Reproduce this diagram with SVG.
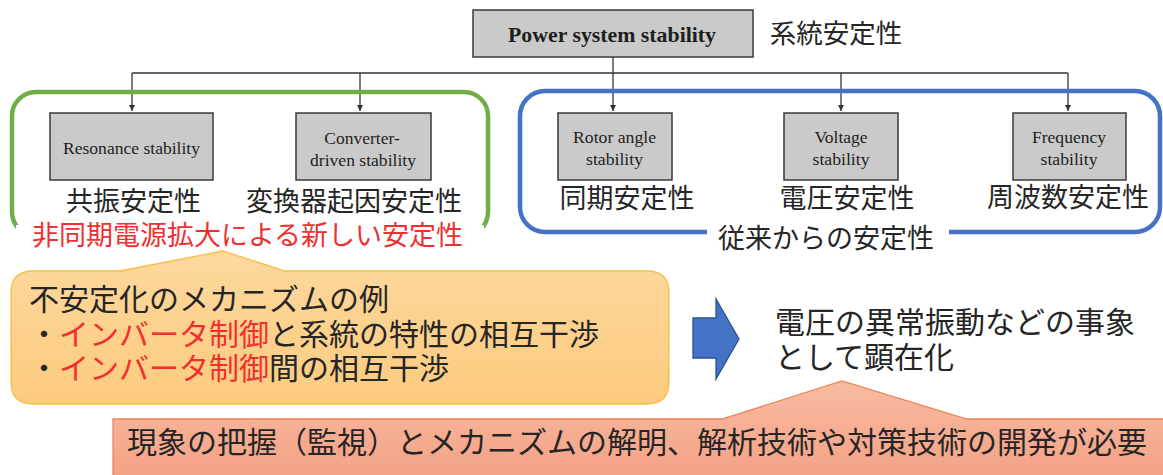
<svg xmlns="http://www.w3.org/2000/svg" width="1163" height="475" viewBox="0 0 1163 475">
<defs>
<style>
.box{fill:#CACACA;stroke:#3a3a3a;stroke-width:1.5}
.en{font-family:"Liberation Serif","Times New Roman",serif;fill:#1e1e1e;text-anchor:middle}
.jp{font-family:"Noto Sans CJK JP","Noto Sans CJK SC",sans-serif;fill:#262626}
.mid{text-anchor:middle}
.red{fill:#F03030}
.conn{stroke:#333;stroke-width:1.3;fill:none}
</style>
<marker id="ah" viewBox="0 0 8 8" refX="8" refY="4" markerWidth="6" markerHeight="6" markerUnits="userSpaceOnUse" orient="auto">
<path d="M0,0 L8,4 L0,8 z" fill="#333"/>
</marker>
<linearGradient id="og" x1="0" y1="0" x2="0" y2="1">
<stop offset="0" stop-color="#FDD89E"/>
<stop offset="1" stop-color="#FCCB7E"/>
</linearGradient>
<linearGradient id="pg" x1="0" y1="0" x2="0" y2="1">
<stop offset="0" stop-color="#F8BBA2"/>
<stop offset="1" stop-color="#F4A184"/>
</linearGradient>
</defs>
<rect x="0" y="0" width="1163" height="475" fill="#ffffff"/>

<g id="connectors">
<path class="conn" d="M613,57 V111" marker-end="url(#ah)"/>
<path class="conn" d="M132,73 H1068"/>
<path class="conn" d="M132,73 V111" marker-end="url(#ah)"/>
<path class="conn" d="M360,73 V111" marker-end="url(#ah)"/>
<path class="conn" d="M841,73 V111" marker-end="url(#ah)"/>
<path class="conn" d="M1068,73 V111" marker-end="url(#ah)"/>
</g>

<g id="group-new">
<rect x="12" y="92" width="476" height="144" rx="24" fill="none" stroke="#70AD47" stroke-width="4.5"/>
<rect x="16" y="225" width="468" height="28" fill="#ffffff"/>
<text class="jp mid red" x="247.5" y="245" font-size="27">非同期電源拡大による新しい安定性</text>
</g>

<g id="group-conventional">
<rect x="520" y="91" width="640" height="141" rx="25" fill="none" stroke="#4472C4" stroke-width="4.5"/>
<rect x="707" y="226" width="242" height="12" fill="#ffffff"/>
<text class="jp mid" x="826" y="248" font-size="27">従来からの安定性</text>
</g>

<g id="node-power">
<rect class="box" x="473" y="10" width="280" height="47"/>
<text class="en" x="612" y="42" font-size="21.5" font-weight="bold" textLength="208" lengthAdjust="spacingAndGlyphs">Power system stability</text>
<text class="jp mid" x="836" y="43" font-size="26.5">系統安定性</text>
</g>

<g id="node-resonance">
<rect class="box" x="50" y="113" width="163" height="67"/>
<text class="en" x="131.5" y="153.5" font-size="17.5" textLength="137" lengthAdjust="spacingAndGlyphs">Resonance stability</text>
<text class="jp mid" x="133.5" y="211" font-size="27">共振安定性</text>
</g>

<g id="node-converter">
<rect class="box" x="296" y="113" width="135" height="67"/>
<text class="en" x="362" y="143.5" font-size="17.5">Converter-</text>
<text class="en" x="363" y="165.5" font-size="17.5" textLength="106" lengthAdjust="spacingAndGlyphs">driven stability</text>
<text class="jp mid" x="354" y="211" font-size="27" textLength="216">変換器起因安定性</text>
</g>

<g id="node-rotor">
<rect class="box" x="558" y="113" width="114" height="67"/>
<text class="en" x="614.5" y="142.5" font-size="17.5" textLength="83" lengthAdjust="spacingAndGlyphs">Rotor angle</text>
<text class="en" x="614.5" y="164.5" font-size="17.5" textLength="57" lengthAdjust="spacingAndGlyphs">stability</text>
<text class="jp mid" x="627" y="208" font-size="27">同期安定性</text>
</g>

<g id="node-voltage">
<rect class="box" x="784" y="113" width="114" height="67"/>
<text class="en" x="841" y="142.5" font-size="17.5">Voltage</text>
<text class="en" x="841" y="164.5" font-size="17.5" textLength="57" lengthAdjust="spacingAndGlyphs">stability</text>
<text class="jp mid" x="847" y="208" font-size="27">電圧安定性</text>
</g>

<g id="node-frequency">
<rect class="box" x="1013" y="113" width="113" height="67"/>
<text class="en" x="1069" y="142.5" font-size="17.5" textLength="74" lengthAdjust="spacingAndGlyphs">Frequency</text>
<text class="en" x="1069" y="164.5" font-size="17.5" textLength="57" lengthAdjust="spacingAndGlyphs">stability</text>
<text class="jp mid" x="1068" y="207" font-size="27">周波数安定性</text>
</g>

<g id="callout-mechanism">
<path d="M33,271 H120 L223,251 L285,271 H647 Q669,271 669,293 V382 Q669,404 647,404 H33 Q11,404 11,382 V293 Q11,271 33,271 Z" fill="url(#og)" stroke="#F9BD45" stroke-width="1.3"/>
<text class="jp" x="29" y="310" font-size="30">不安定化のメカニズムの例</text>
<text class="jp" x="29" y="345" font-size="30">・<tspan class="red">インバータ制御</tspan>と系統の特性の相互干渉</text>
<text class="jp" x="29" y="379" font-size="30">・<tspan class="red">インバータ制御</tspan>間の相互干渉</text>
</g>

<g id="arrow-right">
<path d="M693,318 H716 V299 L739,339 L716,379 V358 H693 Z" fill="#4472C4" stroke="#2F528F" stroke-width="1.3"/>
</g>

<g id="node-phenomenon">
<text class="jp" x="775" y="333" font-size="30">電圧の異常振動などの事象</text>
<text class="jp" x="775" y="368" font-size="30">として顕在化</text>
</g>

<g id="callout-need">
<path d="M113,419 H722 L842,381 L967,419 H1170 V480 H113 Z" fill="url(#pg)" stroke="#EE8655" stroke-width="1.3"/>
<text class="jp" x="127" y="453" font-size="30">現象の把握（監視）とメカニズムの解明、解析技術や対策技術の開発が必要</text>
</g>
</svg>
